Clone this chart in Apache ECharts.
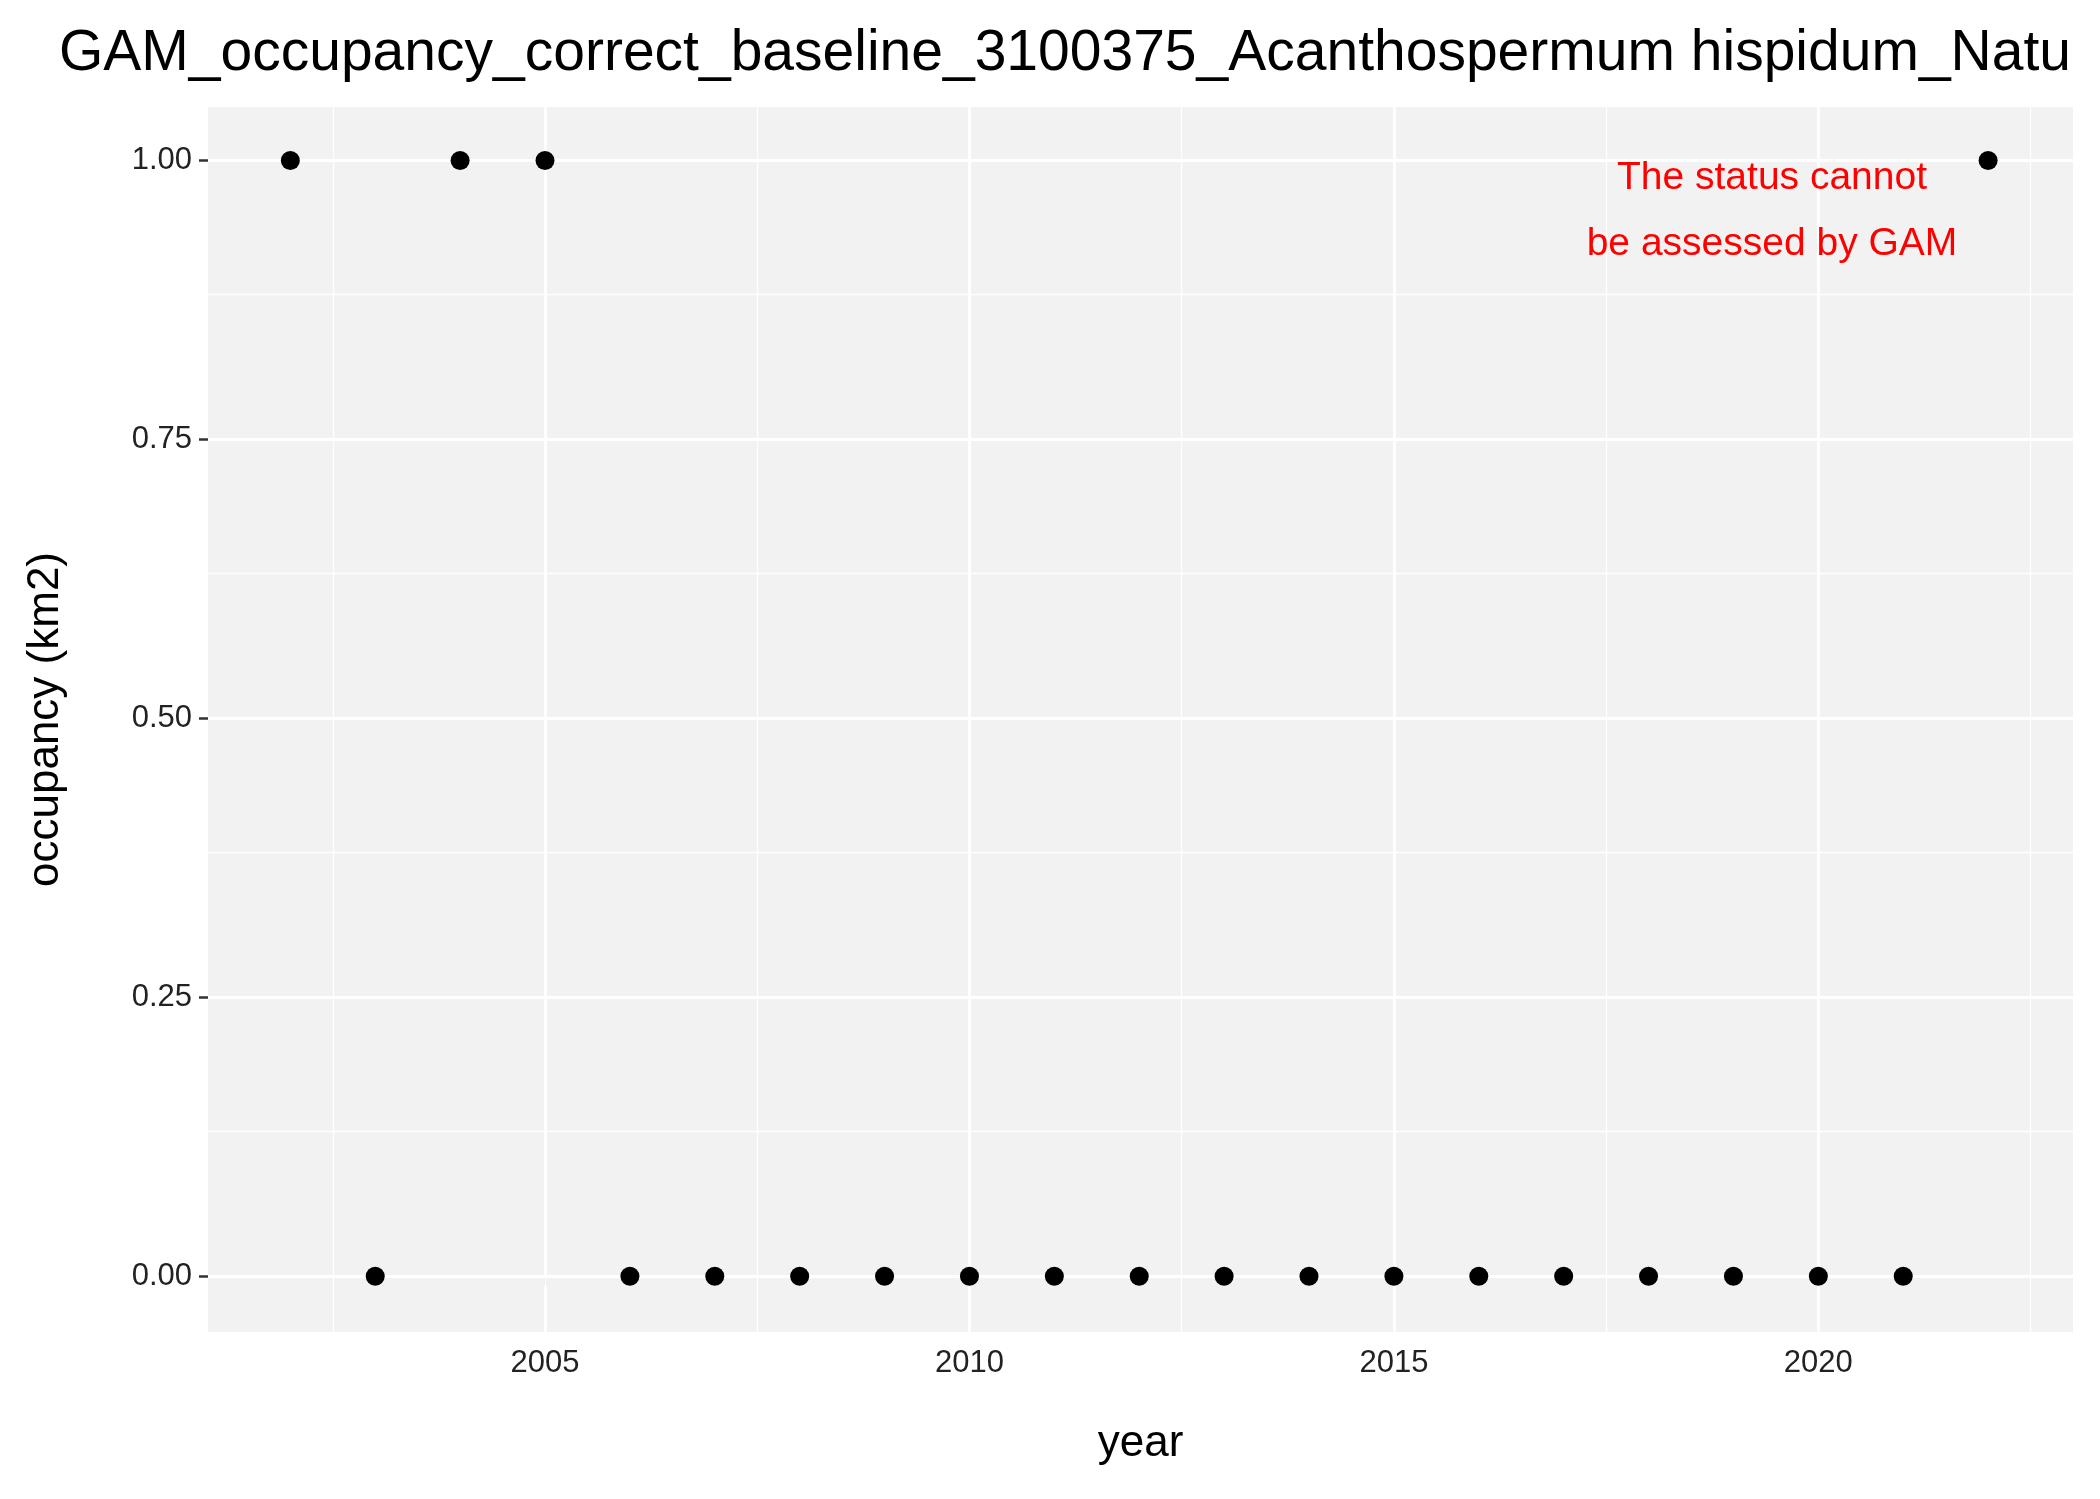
<!DOCTYPE html>
<html>
<head>
<meta charset="utf-8">
<script src="https://cdn.jsdelivr.net/npm/echarts@6/dist/echarts.min.js"></script>
<style>
  html, body { margin: 0; padding: 0; background: #fff; }
  #chart { width: 2100px; height: 1499px; }
</style>
</head>
<body>
<div id="chart"></div>
<script>
var years = [2002, 2003, 2004, 2005, 2006, 2007, 2008, 2009, 2010, 2011, 2012,
  2013, 2014, 2015, 2016, 2017, 2018, 2019, 2020, 2021, 2022];
var occupancy = [1, 0, 1, 1, 0, 0, 0, 0, 0, 0, 0, 0, 0, 0, 0, 0, 0, 0, 0, 0, 1];
var xTicks = [2005, 2010, 2015, 2020];
var xMinor = [2002.5, 2007.5, 2012.5, 2017.5, 2022.5];
var yTicks = [0, 0.25, 0.5, 0.75, 1];
var yMinor = [0.125, 0.375, 0.625, 0.875];

(function () {
  var myChart = echarts.init(document.getElementById("chart"));

  var gridLines = [];
  xMinor.forEach(function (v) { gridLines.push({ xAxis: v, lineStyle: { width: 1.3 } }); });
  yMinor.forEach(function (v) { gridLines.push({ yAxis: v, lineStyle: { width: 1.3 } }); });
  xTicks.forEach(function (v) { gridLines.push({ xAxis: v, lineStyle: { width: 2.8 } }); });
  yTicks.forEach(function (v) { gridLines.push({ yAxis: v, lineStyle: { width: 2.8 } }); });

  var font = "Liberation Sans, Arial, sans-serif";

  var option = {
    backgroundColor: "#ffffff",
    textStyle: { fontFamily: font },
    grid: {
      left: 208, right: 27, top: 107, bottom: 167,
      show: true, backgroundColor: "#f2f2f2", borderWidth: 0
    },
    graphic: [
      {
        type: "text", z: 10,
        style: {
          text: "GAM_occupancy_correct_baseline_3100375_Acanthospermum hispidum_Natu",
          x: 1065, y: 54, align: "center", verticalAlign: "middle",
          fontSize: 57, fill: "#000", fontFamily: font
        }
      },
      {
        type: "text", z: 10,
        style: {
          text: "The status cannot\nbe assessed by GAM",
          x: 1772, y: 145, align: "center", lineHeight: 66,
          fontSize: 39, fill: "#ff0000", fontFamily: font
        }
      }
    ],
    xAxis: {
      type: "value",
      min: 2001.03, max: 2023.0,
      name: "year", nameLocation: "middle", nameGap: 90,
      nameTextStyle: { fontSize: 44, color: "#000" },
      axisLine: { show: false },
      axisTick: { show: true, customValues: xTicks, length: 9, lineStyle: { color: "#333", width: 2.5 } },
      axisLabel: {
        customValues: xTicks, fontSize: 31, color: "#222", margin: 16,
        formatter: function (v) { return String(v); }
      },
      splitLine: { show: false }
    },
    yAxis: {
      type: "value",
      min: -0.05, max: 1.048,
      name: "occupancy (km2)", nameLocation: "middle", nameGap: 140,
      nameTextStyle: { fontSize: 44, color: "#000" },
      axisLine: { show: false },
      axisTick: { show: true, customValues: yTicks, length: 9, lineStyle: { color: "#333", width: 2.5 } },
      axisLabel: {
        customValues: yTicks, fontSize: 31, color: "#222", margin: 16,
        formatter: function (v) { return v.toFixed(2); }
      },
      splitLine: { show: false }
    },
    series: [
      {
        type: "scatter",
        symbolSize: 19,
        itemStyle: { color: "#000", opacity: 1 },
        data: years.map(function (y, i) { return [y, occupancy[i]]; }),
        z: 5,
        markLine: {
          silent: true, symbol: "none", label: { show: false },
          animation: false,
          lineStyle: { color: "#ffffff", type: "solid" },
          data: gridLines,
          z: 1
        }
      }
    ],
    animation: false
  };

  myChart.setOption(option);
})();
</script>
</body>
</html>
